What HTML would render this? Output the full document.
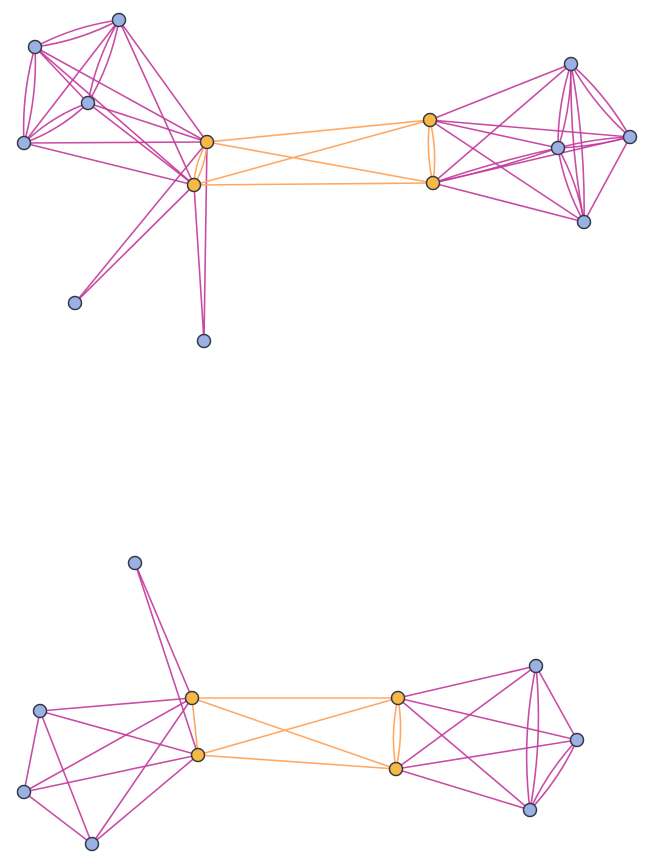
<!DOCTYPE html>
<html><head><meta charset="utf-8"><style>body{margin:0;background:#fff}svg{display:block}</style></head>
<body>
<svg width="652" height="864" viewBox="0 0 652 864" xmlns="http://www.w3.org/2000/svg">
<g fill="none" stroke="#c2399a" stroke-width="1.6" stroke-opacity="0.9">
<!-- top left cluster -->
<path d="M119 20 Q79.5 41 35 47"/><path d="M119 20 Q74.5 26 35 47"/>
<path d="M35 47 Q37.5 96 24 143"/><path d="M35 47 Q21.5 94 24 143"/>
<path d="M119 20 Q111 64 88 103"/><path d="M119 20 Q96 59 88 103"/>
<path d="M88 103 Q60 130 24 143"/><path d="M88 103 Q52 116 24 143"/>
<path d="M119 20 L24 143"/><path d="M35 47 L88 103"/>
<path d="M35 47 L207 142"/><path d="M35 47 L194 185"/>
<path d="M119 20 L207 142"/><path d="M119 20 L194 185"/>
<path d="M88 103 L207 142"/><path d="M88 103 L194 185"/>
<path d="M24 143 L207 142"/><path d="M24 143 L194 185"/>
<path d="M207 142 L75 303"/><path d="M194 185 L75 303"/>
<path d="M207 142 L204 341"/><path d="M194 185 L204 341"/>
<!-- top right cluster -->
<path d="M430 120 L571 64"/><path d="M430 120 L630 137"/><path d="M430 120 L558 148"/><path d="M430 120 L584 222"/>
<path d="M433 183 L571 64"/><path d="M433 183 L630 137"/><path d="M433 183 L584 222"/>
<path d="M433 183 Q496.6 169.3 558 148"/><path d="M433 183 Q494.4 161.7 558 148"/>
<path d="M571 64 Q571.4 107 558 148"/><path d="M571 64 Q557.6 105 558 148"/>
<path d="M571 64 Q606.7 95.5 630 137"/><path d="M571 64 Q594.3 105.5 630 137"/>
<path d="M571 64 Q585.5 142.4 584 222"/><path d="M571 64 Q569.5 143.6 584 222"/>
<path d="M558 148 Q594.6 146.5 630 137"/><path d="M558 148 Q593.4 138.5 630 137"/>
<path d="M558 148 Q577.6 182.7 584 222"/><path d="M558 148 Q564.4 187.3 584 222"/>
<path d="M630 137 L584 222"/>
<!-- bottom left -->
<path d="M135 563 L192 698"/><path d="M135 563 L198 755"/>
<path d="M40 711 L192 698"/><path d="M40 711 L198 755"/><path d="M40 711 L24 792"/><path d="M40 711 L92 844"/>
<path d="M24 792 L192 698"/><path d="M24 792 L198 755"/><path d="M24 792 L92 844"/>
<path d="M92 844 L192 698"/><path d="M92 844 L198 755"/>
<!-- bottom right -->
<path d="M398 698 L536 666"/><path d="M398 698 L577 740"/><path d="M398 698 L530 810"/>
<path d="M396 769 L536 666"/><path d="M396 769 L577 740"/><path d="M396 769 L530 810"/>
<path d="M536 666 L577 740"/>
<path d="M536 666 Q543 738 530 810"/><path d="M536 666 Q521 738 530 810"/>
<path d="M577 740 Q559.3 778.9 530 810"/><path d="M577 740 Q547.7 771.1 530 810"/>
</g>
<g fill="none" stroke="#ffa863" stroke-width="1.6">
<path d="M207 142 Q206 165 194 185"/><path d="M207 142 Q195 162 194 185"/>
<path d="M430 120 Q437.5 151.5 433 183"/><path d="M430 120 Q425.5 151.5 433 183"/>
<path d="M207 142 L430 120"/><path d="M207 142 L433 183"/><path d="M194 185 L430 120"/><path d="M194 185 L433 183"/>
<path d="M192 698 L198 755"/>
<path d="M192 698 L398 698"/><path d="M192 698 L396 769"/><path d="M198 755 L398 698"/><path d="M198 755 L396 769"/>
<path d="M398 698 Q404 733.5 396 769"/><path d="M398 698 Q390 733.5 396 769"/>
</g>
<g stroke="#333944" stroke-width="1.5" fill="#9bb0e3">
<circle cx="119" cy="20" r="6.5"/><circle cx="35" cy="47" r="6.5"/><circle cx="88" cy="103" r="6.5"/><circle cx="24" cy="143" r="6.5"/>
<circle cx="75" cy="303" r="6.5"/><circle cx="204" cy="341" r="6.5"/>
<circle cx="571" cy="64" r="6.5"/><circle cx="558" cy="148" r="6.5"/><circle cx="630" cy="137" r="6.5"/><circle cx="584" cy="222" r="6.5"/>
<circle cx="135" cy="563" r="6.5"/><circle cx="40" cy="711" r="6.5"/><circle cx="24" cy="792" r="6.5"/><circle cx="92" cy="844" r="6.5"/>
<circle cx="536" cy="666" r="6.5"/><circle cx="577" cy="740" r="6.5"/><circle cx="530" cy="810" r="6.5"/>
</g>
<g stroke="#333944" stroke-width="1.5" fill="#f7b844">
<circle cx="207" cy="142" r="6.5"/><circle cx="194" cy="185" r="6.5"/><circle cx="430" cy="120" r="6.5"/><circle cx="433" cy="183" r="6.5"/>
<circle cx="192" cy="698" r="6.5"/><circle cx="198" cy="755" r="6.5"/><circle cx="398" cy="698" r="6.5"/><circle cx="396" cy="769" r="6.5"/>
</g>
</svg>
</body></html>
